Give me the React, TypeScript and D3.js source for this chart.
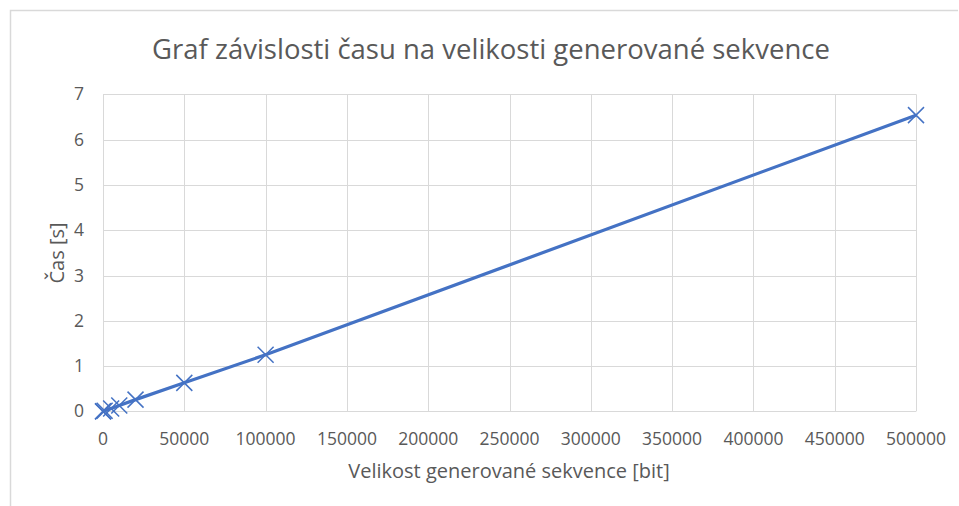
import { useEffect, useRef } from 'react';
import * as d3 from 'd3';

// sequence length [bit] and measured time [s]
const sizes = [10, 100, 1000, 5000, 10000, 20000, 50000, 100000, 500000];
const times = [0.0002, 0.0015, 0.013, 0.065, 0.13, 0.26, 0.63, 1.25, 6.54];
const xTicks = [0, 50000, 100000, 150000, 200000, 250000, 300000, 350000, 400000, 450000, 500000];
const yTicks = [0, 1, 2, 3, 4, 5, 6, 7];

const chartTitle = 'Graf závislosti času na velikosti generované sekvence';
const xTitle = 'Velikost generované sekvence [bit]';
const yTitle = 'Čas [s]';

export default function App() {
  const svgRef = useRef<SVGSVGElement>(null);

  useEffect(() => {
    if (!svgRef.current) return;
    const height = 506;
    const svg = d3.select(svgRef.current);
    svg.selectAll('*').remove();

    const font = '"Open Sans", sans-serif';
    const textColor = '#595959';
    const gridColor = '#d9d9d9';
    const blue = '#4472c4';

    // outer chart frame
    svg.append('path')
      .attr('d', `M10.5,${height + 2} V10.5 H958`)
      .attr('fill', 'none')
      .attr('stroke', gridColor)
      .attr('stroke-width', 1.5);

    const x = d3.scaleLinear().domain([0, 500000]).range([103, 916]);
    const y = d3.scaleLinear().domain([0, 7]).range([411.4, 94.3]);

    // grid
    const g = svg.append('g');
    g.selectAll('.hgrid')
      .data(yTicks)
      .enter()
      .append('line')
      .attr('x1', x(0))
      .attr('x2', x(500000))
      .attr('y1', d => Math.round(y(d)) + 0.5)
      .attr('y2', d => Math.round(y(d)) + 0.5)
      .attr('stroke', gridColor)
      .attr('stroke-width', 1);

    g.selectAll('.vgrid')
      .data(xTicks)
      .enter()
      .append('line')
      .attr('x1', d => Math.round(x(d)) + 0.5)
      .attr('x2', d => Math.round(x(d)) + 0.5)
      .attr('y1', y(0))
      .attr('y2', y(7))
      .attr('stroke', gridColor)
      .attr('stroke-width', 1);

    // tick labels
    g.selectAll('.ylab')
      .data(yTicks)
      .enter()
      .append('text')
      .attr('x', 84)
      .attr('y', d => y(d) + 6)
      .attr('text-anchor', 'end')
      .attr('fill', textColor)
      .attr('font-family', font)
      .attr('font-size', '17.5px')
      .text(d => d);

    g.selectAll('.xlab')
      .data(xTicks)
      .enter()
      .append('text')
      .attr('x', d => x(d))
      .attr('y', 445)
      .attr('text-anchor', 'middle')
      .attr('fill', textColor)
      .attr('font-family', font)
      .attr('font-size', '17.5px')
      .text(d => d);

    // series
    const points = sizes.map((s, i) => ({ s, t: times[i] }));
    const line = d3.line<{ s: number; t: number }>()
      .x(d => x(d.s))
      .y(d => y(d.t));

    svg.append('path')
      .datum(points)
      .attr('fill', 'none')
      .attr('stroke', blue)
      .attr('stroke-width', 3.2)
      .attr('stroke-linejoin', 'round')
      .attr('d', line);

    const m = 8;
    svg.selectAll('.marker')
      .data(points)
      .enter()
      .append('path')
      .attr('d', d => {
        const cx = x(d.s);
        const cy = y(d.t);
        return `M${cx - m},${cy - m}L${cx + m},${cy + m}M${cx - m},${cy + m}L${cx + m},${cy - m}`;
      })
      .attr('stroke', blue)
      .attr('stroke-width', 1.5)
      .attr('fill', 'none');

    // titles
    svg.append('text')
      .attr('x', 491)
      .attr('y', 59)
      .attr('text-anchor', 'middle')
      .attr('fill', textColor)
      .attr('font-family', font)
      .attr('font-size', '27.5px')
      .text(chartTitle);

    svg.append('text')
      .attr('x', 509)
      .attr('y', 478)
      .attr('text-anchor', 'middle')
      .attr('fill', textColor)
      .attr('font-family', font)
      .attr('font-size', '20px')
      .text(xTitle);

    svg.append('text')
      .attr('transform', 'translate(64,253) rotate(-90)')
      .attr('text-anchor', 'middle')
      .attr('fill', textColor)
      .attr('font-family', font)
      .attr('font-size', '20px')
      .text(yTitle);
  }, []);

  return (
    <div style={{ position: 'absolute', left: 0, top: 0 }}>
      <svg ref={svgRef} width={959} height={506} style={{ display: 'block', background: '#ffffff' }} />
    </div>
  );
}
